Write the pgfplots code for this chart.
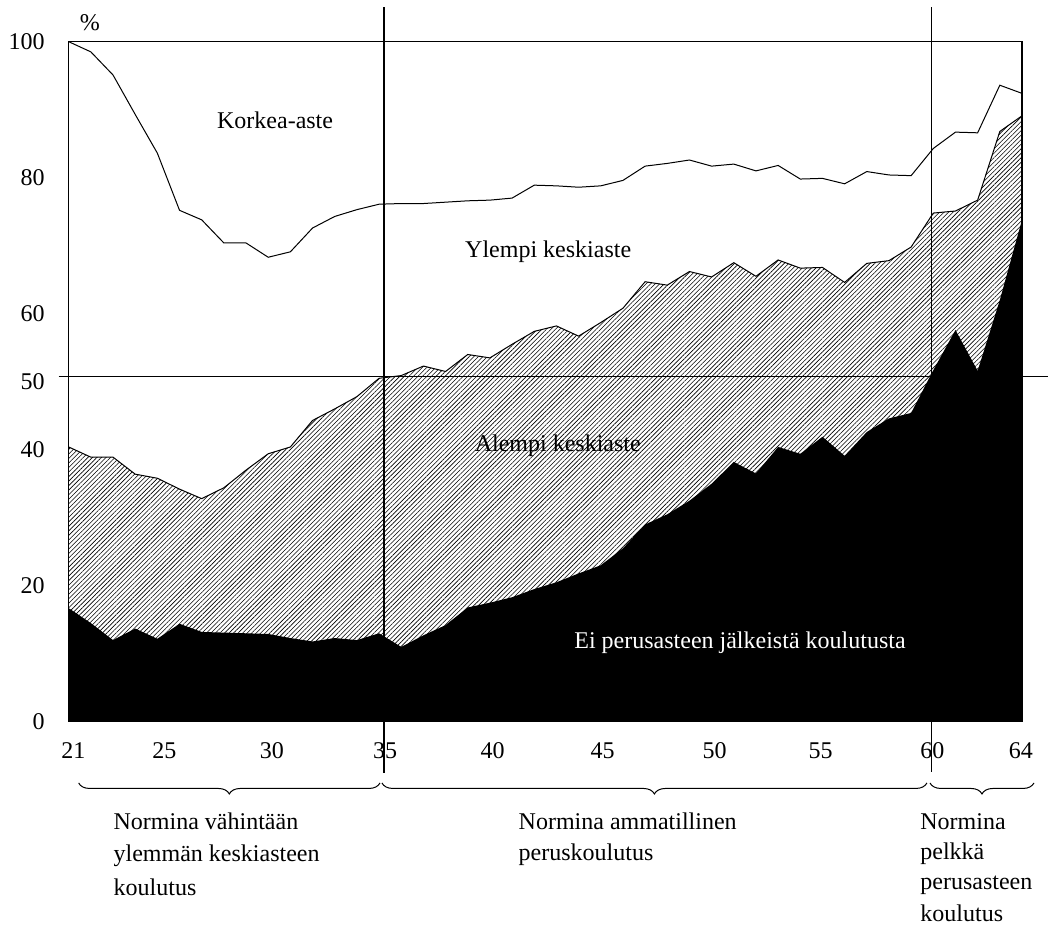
\documentclass[12pt,border=0pt]{standalone}
\usepackage{fontspec}
\setmainfont{Liberation Serif}
\usepackage{pgfplots}
\pgfplotsset{compat=1.18}
\usepackage{pgfplotstable}
\usetikzlibrary{patterns.meta,decorations.pathreplacing}

\pgfplotstableread{
age T M B
21 100 40.4 16.7
22 98.5 38.9 14.5
23 95.1 38.9 12.0
24 89.3 36.4 13.7
25 83.6 35.8 12.2
26 75.2 34.2 14.4
27 73.8 32.8 13.2
28 70.4 34.4 13.1
29 70.4 37.0 13.0
30 68.3 39.4 12.9
31 69.1 40.4 12.3
32 72.6 44.3 11.8
33 74.3 46.0 12.3
34 75.3 47.8 12.0
35 76.1 50.5 13.0
36 76.2 50.9 11.0
37 76.2 52.3 12.7
38 76.4 51.5 14.2
39 76.6 54.0 16.8
40 76.7 53.5 17.5
41 77.0 55.5 18.3
42 78.9 57.4 19.5
43 78.8 58.2 20.5
44 78.6 56.7 21.8
45 78.8 58.7 23.0
46 79.6 60.8 25.5
47 81.7 64.7 29.0
48 82.1 64.2 30.5
49 82.6 66.2 32.5
50 81.7 65.4 35.0
51 82.0 67.5 38.2
52 81.0 65.5 36.5
53 81.8 67.9 40.4
54 79.8 66.7 39.4
55 79.9 66.8 41.9
56 79.1 64.6 39.1
57 80.9 67.4 42.6
58 80.4 67.8 44.6
59 80.3 69.8 45.4
60 84.3 74.8 51.7
61 86.7 75.1 57.6
62 86.6 76.7 51.6
63 93.6 86.8 62.0
64 92.4 89.1 73.8
}\datatable

\begin{document}
\begin{tikzpicture}
\useasboundingbox (-34.35pt,-104.15pt) rectangle (490.65pt,360.85pt);
\begin{axis}[
  at={(0,0)}, anchor=south west,
  scale only axis, width=476.65pt, height=340pt,
  xmin=21, xmax=64, ymin=0, ymax=100,
  axis on top, clip=false,
  axis line style={line width=0.6pt},
  tick style={draw=none},
  major tick length=0pt,
  ytick={0,20,40,50,60,80,100},
  xtick={21.21,25.31,30.16,35.27,40.12,45.08,50.13,54.92,59.96,63.95},
  xticklabels={21,25,30,35,40,45,50,55,60,64},
  yticklabel style={anchor=east, inner sep=0pt, xshift=-11.85pt},
  xticklabel style={anchor=base, inner sep=0pt, yshift=-18.2pt},
  /pgf/number format/assume math mode=true,
]
\addplot[draw=none, pattern={Lines[angle=45,distance=1.6pt,line width=0.3pt]}] table[x=age,y=M] {\datatable} \closedcycle;
\addplot[draw=none, fill=black] table[x=age,y=B] {\datatable} \closedcycle;
\addplot[black, line width=0.5pt] table[x=age,y=M] {\datatable};
\addplot[black, line width=0.5pt] table[x=age,y=T] {\datatable};

\draw[line width=0.55pt] (axis cs:20.55,50.74) -- (axis cs:65.17,50.74);
\draw[line width=0.55pt] (axis cs:35.22,105.06) -- (axis cs:35.22,-7.59);
\draw[line width=0.55pt] (axis cs:59.93,105.06) -- (axis cs:59.93,-7.35);

\node[anchor=base] at (axis cs:21.96,101.6) {\%};
\node[anchor=base] at (axis cs:30.31,87.26) {Korkea-aste};
\node[anchor=base] at (axis cs:42.63,68.3) {Ylempi keskiaste};
\node[anchor=base] at (axis cs:43.06,39.7) {Alempi keskiaste};
\node[anchor=base, text=white] at (axis cs:51.28,10.8) {Ei perusasteen jälkeistä koulutusta};

\draw[line width=0.5pt, decorate, decoration={brace, mirror, amplitude=5.5pt}] (axis cs:21.45,-9.01) -- (axis cs:35.04,-9.01);
\draw[line width=0.5pt, decorate, decoration={brace, mirror, amplitude=5.5pt}] (axis cs:35.13,-9.01) -- (axis cs:59.71,-9.01);
\draw[line width=0.5pt, decorate, decoration={brace, mirror, amplitude=5.5pt}] (axis cs:59.85,-9.01) -- (axis cs:64.54,-9.01);

\node[anchor=base west, inner sep=0pt] at (axis cs:23.01,-15.82) {Normina vähintään};
\node[anchor=base west, inner sep=0pt] at (axis cs:23.01,-20.59) {ylemmän keskiasteen};
\node[anchor=base west, inner sep=0pt] at (axis cs:23.01,-25.49) {koulutus};

\node[anchor=base west, inner sep=0pt] at (axis cs:41.28,-15.82) {Normina ammatillinen};
\node[anchor=base west, inner sep=0pt] at (axis cs:41.28,-20.34) {peruskoulutus};

\node[anchor=base west, inner sep=0pt] at (axis cs:59.40,-15.82) {Normina};
\node[anchor=base west, inner sep=0pt] at (axis cs:59.40,-20.24) {pelkkä};
\node[anchor=base west, inner sep=0pt] at (axis cs:59.40,-24.65) {perusasteen};
\node[anchor=base west, inner sep=0pt] at (axis cs:59.40,-29.31) {koulutus};
\end{axis}
\end{tikzpicture}
\end{document}
